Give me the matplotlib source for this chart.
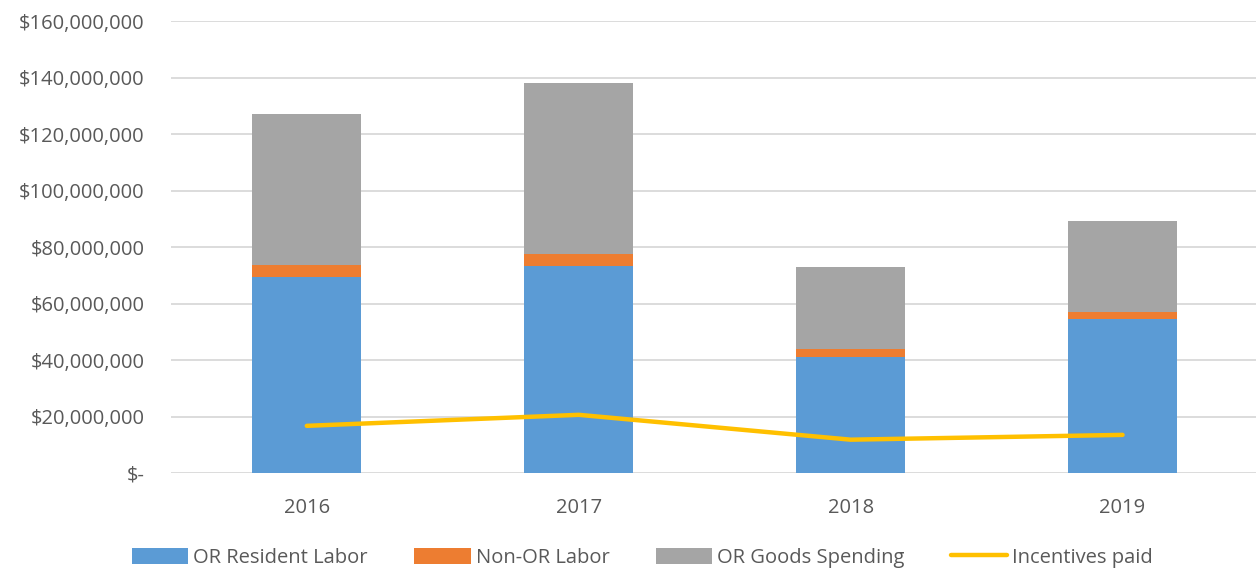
import matplotlib
matplotlib.use("Agg")
import matplotlib.pyplot as plt
from matplotlib.ticker import FuncFormatter
import numpy as np

years = ["2016", "2017", "2018", "2019"]
or_resident_labor = [69.3e6, 73.4e6, 41.2e6, 54.5e6]
non_or_labor = [4.2e6, 4.3e6, 2.6e6, 2.5e6]
or_goods_spending = [53.7e6, 60.3e6, 29.2e6, 32.2e6]
incentives_paid = [16.7e6, 20.6e6, 11.8e6, 13.5e6]

plt.rcParams['font.family'] = ['Open Sans', 'DejaVu Sans']
txt = '#595959'

fig = plt.figure(figsize=(12.56, 5.69), dpi=100)
ax = fig.add_axes([0.136, 0.1687, 0.866, 0.7943])

x = np.arange(len(years))
w = 0.4
b1 = ax.bar(x, or_resident_labor, w, color='#5B9BD5', label='OR Resident Labor', zorder=2)
bot2 = np.array(or_resident_labor)
b2 = ax.bar(x, non_or_labor, w, bottom=bot2, color='#ED7D31', label='Non-OR Labor', zorder=2)
bot3 = bot2 + np.array(non_or_labor)
b3 = ax.bar(x, or_goods_spending, w, bottom=bot3, color='#A5A5A5', label='OR Goods Spending', zorder=2)
ln, = ax.plot(x, incentives_paid, color='#FFC000', lw=3.2, solid_capstyle='round', label='Incentives paid', zorder=3)

ax.set_xlim(-0.5, 3.5)
ax.set_ylim(0, 160e6)
ax.set_yticks(np.arange(0, 160e6 + 1, 20e6))
ax.yaxis.set_major_formatter(FuncFormatter(lambda v, p: '$-' if v == 0 else '${:,.0f}'.format(v)))
ax.set_xticks(x)
ax.set_xticklabels(years)
ax.grid(axis='y', color='#D9D9D9', lw=1.3, zorder=0)
ax.set_axisbelow(True)
for s in ax.spines.values():
    s.set_visible(False)
ax.tick_params(axis='both', length=0, labelsize=14.5, colors=txt)
ax.tick_params(axis='y', pad=19)
ax.tick_params(axis='x', pad=18)

leg = fig.legend(handles=[b1, b2, b3, ln], loc='lower center', bbox_to_anchor=(0.5115, -0.03), ncol=4,
                 frameon=False, fontsize=14.5, handlelength=2.8, handleheight=0.9, columnspacing=2.3,
                 handletextpad=0.25, labelcolor=txt)
fig.savefig('out.png', dpi=100)
